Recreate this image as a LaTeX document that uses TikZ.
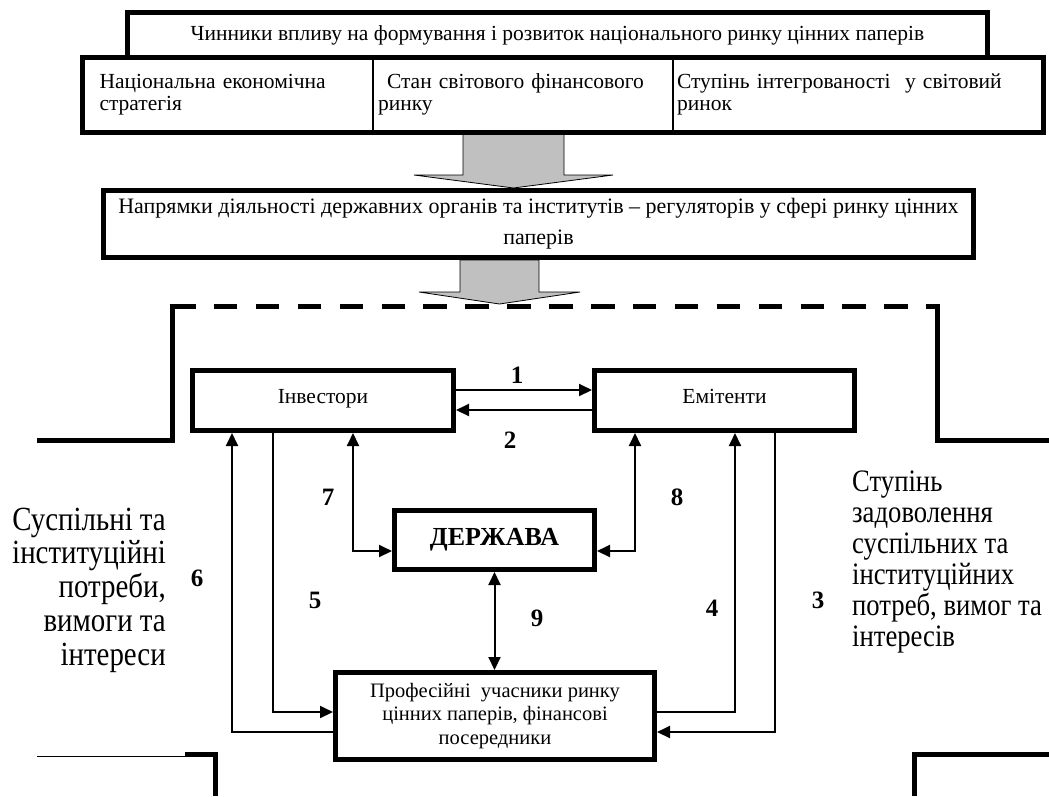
\documentclass[tikz,border=0pt]{standalone}
\usepackage{fontspec}
\setmainfont{Liberation Serif}
\newfontfamily\sidefont[FakeStretch=0.855]{Liberation Serif}
\usepackage{xcolor}
\usepackage{tikz}
\usetikzlibrary{calc, arrows.meta, positioning}
\definecolor{blockgray}{RGB}{192,192,192}
\tikzset{
    boxnode/.style = {draw, rectangle, line width=5pt, inner sep=0pt, node distance=0em,
      align=center, font=\fontsize{21.5}{23.5}\selectfont},
    cellnode/.style = {draw, rectangle, line width=1.2pt, inner ysep=0pt, outer sep=0pt,
      minimum height=75pt, align=left, node distance=0em, font=\fontsize{21.5}{22}\selectfont},
    numnode/.style = {draw=none, fill=none, inner sep=0pt, font=\fontsize{25}{25}\selectfont\bfseries},
    sidenode/.style = {draw=none, fill=none, inner sep=0pt},
    connect/.style = {black, line width=2pt, -{Triangle[length=13pt, width=12pt]}},
    biconnect/.style = {black, line width=2pt,
      {Triangle[length=13pt, width=12pt]}-{Triangle[length=13pt, width=12pt]}},
    blockarrow/.style = {draw, line width=0.8pt, fill=blockgray},
    bracketline/.style = {black, line width=5pt}
}

\begin{document}
\begin{tikzpicture}[x=1pt, y=-1pt]
    \useasboundingbox (0,0) rectangle (1049,796);

    \draw [blockarrow] (463,133) -- (463,175) -- (414,175) -- (513.5,188) -- (613,175) -- (564,175) -- (564,133) -- cycle;
    \draw [blockarrow] (460,260) -- (460,292) -- (419,292) -- (499.5,304) -- (580,292) -- (539,292) -- (539,260) -- cycle;

    \node [name=factors, boxnode, minimum width=860pt, minimum height=45pt] at (557.5,35)
        {Чинники впливу на формування і розвиток національного ринку цінних паперів};

    \node [name=strat, cellnode, anchor=north west, inner xsep=17pt, text width=256.5pt] at (82.5,57)
        {Національна економічна\\стратегія};
    \node [name=world, cellnode, right=0pt of strat, inner xsep=5pt, text width=290pt]
        {\hspace*{9pt}Стан світового фінансового\\ринку};
    \node [name=integr, cellnode, right=0pt of world, inner xsep=4pt, text width=362.5pt]
        {Ступінь інтегрованості~ у світовий\\ринок};
    \draw [line width=5pt] (strat.north west) rectangle (integr.south east);

    \node [name=directions, boxnode, minimum width=870pt, minimum height=67pt,
        font=\fontsize{22}{31}\selectfont] at (538.5,224)
        {Напрямки діяльності державних органів та інститутів – регуляторів у сфері ринку цінних\\паперів};

    \draw [bracketline] (37,440) -- (172,440) -- (172,303.5);
    \draw [bracketline, dash pattern=on 23.5pt off 18.4pt] (172,306) -- (937,306);
    \draw [bracketline] (937,303.5) -- (937,440) -- (1049,440);
    \draw [line width=1pt] (37,756.5) -- (185,756.5);
    \draw [bracketline] (185,754.5) -- (215.5,754.5) -- (215.5,796);
    \draw [bracketline] (1049,754.5) -- (914.5,754.5) -- (914.5,796);

    \node [name=investors, boxnode, minimum width=261pt, minimum height=60pt,
        text height=14pt, text depth=8pt] at (323,400.5) {Інвестори};
    \node [name=issuers, boxnode, minimum width=260pt, minimum height=60pt,
        text height=14pt, text depth=8pt, right of = investors, xshift=401.5pt] {Емітенти};
    \node [name=state, boxnode, minimum width=200pt, minimum height=59pt,
        font=\fontsize{26}{26}\selectfont\bfseries,
        right of = investors, xshift=171.5pt, yshift=-139.5pt] {ДЕРЖАВА};
    \node [name=profs, boxnode, minimum width=319pt, minimum height=87pt,
        font=\fontsize{20.5}{23.5}\selectfont,
        below of = state, xshift=0.5pt, yshift=-176pt]
        {Професійні~ учасники ринку\\цінних паперів, фінансові\\посередники};

    \draw [connect] ([yshift=10.5pt]investors.east) -- ([yshift=10.5pt]issuers.west);
    \draw [connect] ([yshift=-9.5pt]issuers.west) -- ([yshift=-9.5pt]investors.east);
    \draw [connect] ([xshift=50.5pt]issuers.south) |- ([yshift=-16pt]profs.east);
    \draw [connect] ([yshift=4pt]profs.east) -| ([xshift=10.5pt]issuers.south);
    \draw [connect] ([xshift=-50pt]investors.south) |- ([yshift=4pt]profs.west);
    \draw [connect] ([yshift=-16pt]profs.west) -| ([xshift=-91pt]investors.south);
    \draw [biconnect] ([xshift=30pt]investors.south) |- ([yshift=-11pt]state.west);
    \draw [biconnect] ([xshift=-89.5pt]issuers.south) |- ([yshift=-11pt]state.east);
    \draw [biconnect] (state.south) -- (state.south |- profs.north);

    \node [name=n1, numnode] at (517,375) {1};
    \node [name=n2, numnode] at (510,440) {2};
    \node [name=n3, numnode] at (818,600) {3};
    \node [name=n4, numnode] at (712,608) {4};
    \node [name=n5, numnode] at (315,600) {5};
    \node [name=n6, numnode] at (197,578) {6};
    \node [name=n7, numnode] at (328,497) {7};
    \node [name=n8, numnode] at (677,497) {8};
    \node [name=n9, numnode] at (537,618) {9};

    \node [name=needs, sidenode, align=right, anchor=east,
        font=\sidefont\fontsize{33.8}{33.75}\selectfont] at (166,590)
        {Суспільні та\\інституційні\\потреби,\\вимоги та\\інтереси};
    \node [name=satisf, sidenode, align=left, anchor=west,
        font=\sidefont\fontsize{31.2}{31}\selectfont] at (852,562)
        {Ступінь\\задоволення\\суспільних та\\інституційних\\потреб, вимог та\\інтересів};
\end{tikzpicture}
\end{document}
